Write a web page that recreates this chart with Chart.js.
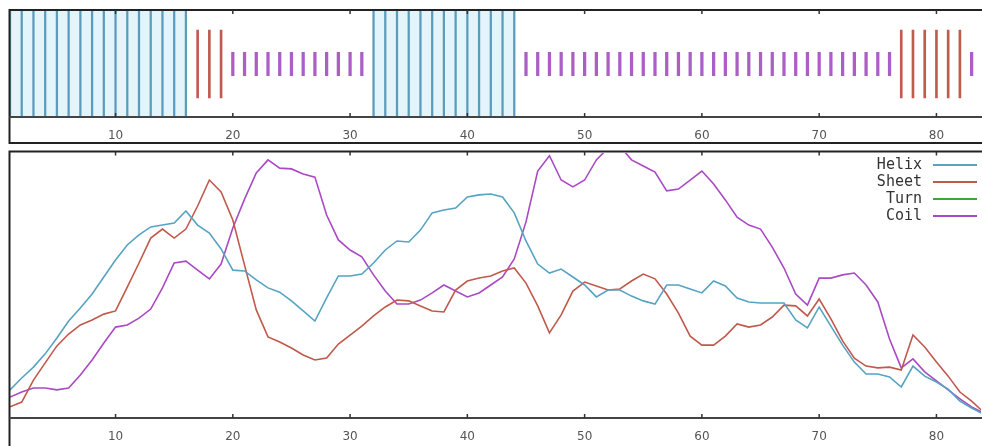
<!DOCTYPE html>
<html>
<head>
<meta charset="utf-8">
<script src="https://cdn.jsdelivr.net/npm/chart.js@4.4.0/dist/chart.umd.min.js"></script>
<style>
  html, body { margin: 0; padding: 0; background: #fff; }
  #wrap { position: relative; width: 982px; height: 446px; overflow: hidden; }
  #trackChart { position: absolute; left: 0; top: 0; }
  #profileChart { position: absolute; left: 0; top: 148px; }
</style>
</head>
<body>
<div id="wrap">
  <canvas id="trackChart" width="982" height="148"></canvas>
  <canvas id="profileChart" width="982" height="298"></canvas>
</div>
<script>
// Residue numbers (x axis)
const residues = [
   1,  2,  3,  4,  5,  6,  7,  8,  9, 10, 11, 12, 13, 14, 15, 16, 17, 18, 19, 20, 21,
  22, 23, 24, 25, 26, 27, 28, 29, 30, 31, 32, 33, 34, 35, 36, 37, 38, 39, 40, 41, 42,
  43, 44, 45, 46, 47, 48, 49, 50, 51, 52, 53, 54, 55, 56, 57, 58, 59, 60, 61, 62, 63,
  64, 65, 66, 67, 68, 69, 70, 71, 72, 73, 74, 75, 76, 77, 78, 79, 80, 81, 82, 83, 84
];
const xTicks = [10, 20, 30, 40, 50, 60, 70, 80];

// Predicted secondary structure, one letter per residue (H helix, E sheet, C coil)
const ssTrack = 'HHHHHHHHHHHHHHHH' + 'EEE' + 'CCCCCCCCCCCC' + 'HHHHHHHHHHHHH' +
  'CCCCCCCCCCCCCCCCCCCCCCCCCCCCCCCC' + 'EEEEEE' + 'CC';

// extent of each track mark (fraction of the track height)
const trackSpan = { H: [0, 1], E: [0.18, 0.82], C: [0.39, 0.61] };

// Per-residue propensity profiles
const helix = [
  0.106, 0.151, 0.192, 0.242, 0.302, 0.366, 0.415, 0.468, 0.532, 0.596,
  0.653, 0.691, 0.721, 0.728, 0.736, 0.781, 0.728, 0.698, 0.638, 0.558,
  0.555, 0.521, 0.491, 0.475, 0.442, 0.404, 0.366, 0.453, 0.536, 0.536,
  0.543, 0.585, 0.634, 0.668, 0.664, 0.709, 0.774, 0.785, 0.792, 0.834,
  0.842, 0.845, 0.834, 0.774, 0.668, 0.581, 0.547, 0.562, 0.532, 0.502,
  0.457, 0.483, 0.483, 0.460, 0.442, 0.430, 0.502, 0.502, 0.487, 0.472,
  0.517, 0.498, 0.453, 0.438, 0.434, 0.434, 0.434, 0.370, 0.340, 0.419,
  0.347, 0.275, 0.211, 0.166, 0.166, 0.155, 0.117, 0.196, 0.158, 0.136,
  0.109, 0.064, 0.038, 0.015
];
const sheet = [
  0.042, 0.060, 0.143, 0.208, 0.272, 0.317, 0.351, 0.370, 0.392, 0.404,
  0.494, 0.585, 0.679, 0.713, 0.679, 0.713, 0.800, 0.898, 0.853, 0.747,
  0.577, 0.408, 0.306, 0.287, 0.264, 0.238, 0.219, 0.226, 0.279, 0.313,
  0.347, 0.385, 0.419, 0.445, 0.442, 0.423, 0.404, 0.400, 0.483, 0.517,
  0.528, 0.536, 0.555, 0.566, 0.509, 0.423, 0.321, 0.389, 0.479, 0.513,
  0.498, 0.483, 0.487, 0.517, 0.543, 0.525, 0.468, 0.396, 0.309, 0.275,
  0.275, 0.309, 0.355, 0.343, 0.351, 0.381, 0.426, 0.423, 0.385, 0.449,
  0.374, 0.291, 0.226, 0.196, 0.189, 0.192, 0.181, 0.313, 0.268, 0.211,
  0.158, 0.098, 0.064, 0.023
];
const turn = [];
const coil = [
  0.079, 0.098, 0.113, 0.113, 0.106, 0.113, 0.162, 0.219, 0.283, 0.343,
  0.351, 0.377, 0.411, 0.491, 0.585, 0.592, 0.558, 0.525, 0.581, 0.717,
  0.826, 0.925, 0.974, 0.943, 0.940, 0.921, 0.909, 0.766, 0.672, 0.634,
  0.608, 0.540, 0.479, 0.430, 0.430, 0.445, 0.472, 0.502, 0.479, 0.457,
  0.472, 0.502, 0.532, 0.600, 0.740, 0.932, 0.990, 0.898, 0.872, 0.898,
  0.974, 1.019, 1.026, 0.974, 0.951, 0.928, 0.857, 0.864, 0.898, 0.932,
  0.883, 0.823, 0.758, 0.728, 0.713, 0.645, 0.566, 0.468, 0.426, 0.528,
  0.528, 0.540, 0.547, 0.502, 0.438, 0.298, 0.189, 0.223, 0.174, 0.140,
  0.106, 0.072, 0.042, 0.019
];

const tickFont = { family: 'DejaVu Sans', size: 12 };

function trackPoints(code) {
  const pts = [];
  for (let i = 0; i < residues.length; i++) {
    if (ssTrack[i] === code) pts.push({ x: residues[i], y: trackSpan[code] });
  }
  return pts;
}

// runs of consecutive residues with the same code -> [first, last]
function trackRuns(code) {
  const runs = [];
  let start = null;
  for (let i = 0; i <= residues.length; i++) {
    if (ssTrack[i] === code) {
      if (start === null) start = residues[i];
    } else if (start !== null) {
      runs.push([start, residues[i - 1]]);
      start = null;
    }
  }
  return runs;
}

function xyPoints(values) {
  return values.map((v, i) => ({ x: residues[i], y: v }));
}

function xAxis(height) {
  return {
    type: 'linear', min: 1, max: 83.8, offset: false,
    grid: { display: false, drawTicks: false, offset: false },
    border: { display: false },
    afterBuildTicks: s => { s.ticks = xTicks.map(v => ({ value: v })); },
    afterFit: s => { s.height = height; },
    ticks: { padding: 12, color: '#555', font: tickFont, maxRotation: 0, autoSkip: false }
  };
}

// gnuplot-like frame: box, axis line, inward tick marks
function framePlugin(boxTop, boxBottom) {
  return {
    id: 'frame',
    afterDraw(chart) {
      const { ctx, chartArea, scales } = chart;
      ctx.save();
      ctx.strokeStyle = '#222';
      ctx.lineWidth = 2;
      ctx.beginPath();
      ctx.moveTo(chart.width + 2, boxTop);
      ctx.lineTo(9.5, boxTop);
      ctx.lineTo(9.5, boxBottom);
      if (boxBottom < chart.height) ctx.lineTo(chart.width + 2, boxBottom);
      ctx.stroke();

      ctx.strokeStyle = '#444';
      ctx.beginPath();
      ctx.moveTo(9.5, chartArea.bottom);
      ctx.lineTo(chart.width, chartArea.bottom);
      ctx.stroke();

      ctx.strokeStyle = '#333';
      ctx.lineWidth = 1.5;
      xTicks.forEach(v => {
        const x = scales.x.getPixelForValue(v);
        ctx.beginPath();
        ctx.moveTo(x, boxTop);
        ctx.lineTo(x, boxTop + 4);
        ctx.moveTo(x, chartArea.bottom);
        ctx.lineTo(x, chartArea.bottom - 4);
        ctx.stroke();
      });
      ctx.restore();
    }
  };
}

// light fill behind helix runs in the track
const trackShading = {
  id: 'trackShading',
  beforeDatasetsDraw(chart) {
    const { ctx, chartArea, scales } = chart;
    ctx.save();
    ctx.fillStyle = '#e3f4fa';
    trackRuns('H').forEach(([a, b]) => {
      const x0 = scales.x.getPixelForValue(a);
      const x1 = scales.x.getPixelForValue(b);
      ctx.fillRect(x0, chartArea.top, x1 - x0, chartArea.bottom - chartArea.top);
    });
    ctx.restore();
  }
};

// legend: right-aligned label followed by a line sample
const legendRows = {
  id: 'legendRows',
  afterDatasetsDraw(chart) {
    const { ctx, chartArea } = chart;
    ctx.save();
    ctx.font = '15px "DejaVu Sans Mono"';
    ctx.textAlign = 'right';
    ctx.textBaseline = 'middle';
    chart.data.datasets.forEach((ds, i) => {
      const y = chartArea.top + 12 + i * 17;
      ctx.fillStyle = '#333';
      ctx.fillText(ds.label, chartArea.right - 59, y);
      ctx.strokeStyle = ds.borderColor;
      ctx.lineWidth = 2;
      ctx.beginPath();
      ctx.moveTo(chartArea.right - 48, y);
      ctx.lineTo(chartArea.right - 4, y);
      ctx.stroke();
    });
    ctx.restore();
  }
};

// Top: secondary structure track
new Chart(document.getElementById('trackChart'), {
  type: 'bar',
  data: {
    datasets: [
      { label: 'Helix', data: trackPoints('H'), backgroundColor: '#5b9cbc', barThickness: 1.6, grouped: false },
      { label: 'Sheet', data: trackPoints('E'), backgroundColor: '#c25a50', barThickness: 2, grouped: false },
      { label: 'Coil', data: trackPoints('C'), backgroundColor: '#ab5fc6', barThickness: 2.6, grouped: false }
    ]
  },
  options: {
    responsive: false,
    animation: false,
    layout: { padding: { left: 10, right: 1, top: 11, bottom: 0 } },
    plugins: { legend: { display: false }, tooltip: { enabled: false } },
    scales: {
      x: xAxis(31),
      y: { display: false, min: 0, max: 1 }
    }
  },
  plugins: [trackShading, framePlugin(10, 143)]
});

// Bottom: propensity profiles
new Chart(document.getElementById('profileChart'), {
  type: 'line',
  data: {
    datasets: [
      { label: 'Helix', data: xyPoints(helix), borderColor: '#56a3c2' },
      { label: 'Sheet', data: xyPoints(sheet), borderColor: '#c0594b' },
      { label: 'Turn', data: xyPoints(turn), borderColor: '#3da53d' },
      { label: 'Coil', data: xyPoints(coil), borderColor: '#a949c4' }
    ]
  },
  options: {
    responsive: false,
    animation: false,
    layout: { padding: { left: 10, right: 1, top: 5, bottom: 0 } },
    elements: { point: { radius: 0 }, line: { borderWidth: 1.6, tension: 0 } },
    plugins: { legend: { display: false }, tooltip: { enabled: false } },
    scales: {
      x: xAxis(28),
      y: { display: false, min: 0, max: 1 }
    }
  },
  plugins: [legendRows, framePlugin(3.5, 300)]
});
</script>
</body>
</html>
